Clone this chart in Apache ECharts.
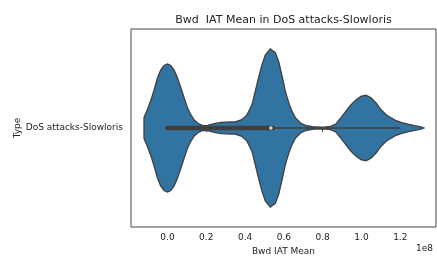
<!DOCTYPE html>
<html>
<head>
<meta charset="UTF-8">
<title>Bwd IAT Mean in DoS attacks-Slowloris</title>
<script src="https://cdn.jsdelivr.net/npm/echarts@6.0.0/dist/echarts.min.js"></script>
<style>
    html, body { margin: 0; padding: 0; background: #fff; }
    #chart { width: 437px; height: 259px; }
</style>
</head>
<body>
<div id="chart"></div>
<script>
    // categories / ticks
    const categories = ['DoS attacks-Slowloris'];
    const xTicks = [0, 0.2, 0.4, 0.6, 0.8, 1.0, 1.2];   // x in units of 1e8

    // violin outline: x (1e8) and relative half-width (peak = 1)
    const densityX = [-0.121, -0.121, -0.104, -0.087, -0.069, -0.052, -0.035, -0.018,
        0.0, 0.017, 0.034, 0.052, 0.069, 0.086, 0.104, 0.121, 0.138, 0.155,
        0.181, 0.207, 0.241, 0.276, 0.328, 0.349, 0.383, 0.409, 0.435, 0.452,
        0.469, 0.487, 0.504, 0.530, 0.556, 0.573, 0.591, 0.608, 0.625, 0.642,
        0.660, 0.686, 0.711, 0.746, 0.780, 0.815, 0.841, 0.867, 0.893, 0.919,
        0.945, 0.971, 0.997, 1.023, 1.049, 1.075, 1.101, 1.127, 1.153, 1.179,
        1.204, 1.238, 1.273, 1.307, 1.321];
    const densityY = [0, 0.13, 0.23, 0.34, 0.48, 0.63, 0.73, 0.79,
        0.81, 0.79, 0.73, 0.63, 0.51, 0.38, 0.25, 0.165, 0.10, 0.063,
        0.03, 0.033, 0.054, 0.07, 0.076, 0.076, 0.105, 0.165, 0.29, 0.46,
        0.63, 0.80, 0.92, 1.0, 0.95, 0.84, 0.65, 0.46, 0.32, 0.21,
        0.127, 0.063, 0.033, 0.016, 0.012, 0.013, 0.02, 0.05, 0.127, 0.21,
        0.29, 0.355, 0.40, 0.413, 0.38, 0.316, 0.23, 0.168, 0.127, 0.092,
        0.071, 0.05, 0.029, 0.013, 0];

    // inner box plot (1e8)
    const whisker = [-0.01, 1.2];
    const box = [-0.01, 0.551];
    const median = 0.533;

    const WIDTH_SCALE = 0.8;
    const lineColor = '#3f3f3f';
    const textColor = '#222';

    const chart = echarts.init(document.getElementById('chart'));

    function renderViolin(params, api) {
        const pts = [];
        for (let i = 0; i < densityX.length; i++) {
            pts.push(api.coord([densityX[i], densityY[i] * WIDTH_SCALE]));
        }
        for (let i = densityX.length - 1; i >= 0; i--) {
            pts.push(api.coord([densityX[i], -densityY[i] * WIDTH_SCALE]));
        }
        return {
            type: 'polygon',
            shape: { points: pts },
            style: { fill: '#3274a1', stroke: lineColor, lineWidth: 1.3 }
        };
    }

    const option = {
        animation: false,
        grid: {
            left: 131, right: 1, top: 29, bottom: 32,
            outerBoundsMode: 'none',
            containLabel: false,
            show: true, borderColor: '#444', borderWidth: 1
        },
        graphic: [
            {
                type: 'text', x: 283.5, y: 20,
                style: {
                    text: 'Bwd  IAT Mean in DoS attacks-Slowloris',
                    font: '11px "DejaVu Sans"', fill: textColor,
                    textAlign: 'center', textVerticalAlign: 'middle'
                }
            },
            {
                type: 'text', x: 433, y: 249,
                style: {
                    text: '1e8', font: '9px "DejaVu Sans"', fill: textColor,
                    textAlign: 'right', textVerticalAlign: 'middle'
                }
            }
        ],
        xAxis: {
            type: 'value',
            min: -0.188,
            max: 1.384,
            name: 'Bwd IAT Mean',
            nameLocation: 'middle',
            nameGap: 20,
            nameMoveOverlap: false,
            nameTextStyle: { fontFamily: 'DejaVu Sans', fontSize: 9, color: textColor },
            axisLine: { show: false },
            axisTick: { show: true, length: 4, customValues: xTicks, lineStyle: { color: '#444' } },
            axisLabel: {
                customValues: xTicks, margin: 6,
                fontFamily: 'DejaVu Sans', fontSize: 9, color: textColor,
                formatter: v => v.toFixed(1)
            },
            splitLine: { show: false }
        },
        yAxis: [
            {
                type: 'category',
                data: categories,
                name: 'Type',
                nameLocation: 'middle',
                nameGap: 109,
                nameMoveOverlap: false,
                nameTextStyle: { fontFamily: 'DejaVu Sans', fontSize: 9, color: textColor },
                axisLine: { show: false },
                axisTick: { show: true, alignWithLabel: true, length: 4, lineStyle: { color: '#444' } },
                axisLabel: { margin: 8, fontFamily: 'DejaVu Sans', fontSize: 9, color: textColor },
                splitLine: { show: false }
            },
            { type: 'value', min: -1, max: 1, show: false }
        ],
        series: [
            {
                type: 'custom',
                xAxisIndex: 0,
                yAxisIndex: 1,
                data: [[0, 0]],
                renderItem: renderViolin,
                silent: true,
                z: 2
            },
            {
                type: 'line',
                yAxisIndex: 1,
                data: [[whisker[0], 0], [whisker[1], 0]],
                symbol: 'none',
                lineStyle: { color: lineColor, width: 1.5 },
                z: 3
            },
            {
                type: 'line',
                yAxisIndex: 1,
                data: [[box[0], 0], [box[1], 0]],
                symbol: 'none',
                lineStyle: { color: lineColor, width: 4.5, cap: 'butt' },
                z: 4
            },
            {
                type: 'scatter',
                yAxisIndex: 1,
                data: [[median, 0]],
                symbol: 'circle',
                symbolSize: 3.5,
                itemStyle: { color: '#fff' },
                z: 5
            }
        ]
    };

    chart.setOption(option);
</script>
</body>
</html>
